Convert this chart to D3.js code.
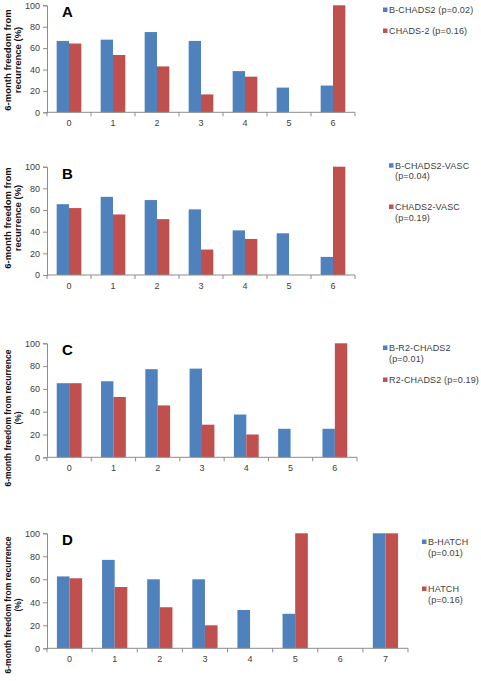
<!DOCTYPE html>
<html><head><meta charset="utf-8">
<script src="https://cdn.jsdelivr.net/npm/d3@7"></script>
<style>body{margin:0;background:#fff}svg{display:block}</style>
</head><body>
<script>
const yTicks = [0, 20, 40, 60, 80, 100];
const catsA = ["0","1","2","3","4","5","6"];
const blueA = [66.7, 67.9, 75, 66.7, 38.5, 23.1, 25];
const redA  = [64.3, 53.6, 42.9, 16.7, 33.3, 0, 100];
const legendA = [["B-CHADS2 (p=0.02)"], ["CHADS-2 (p=0.16)"]];
const catsB = ["0","1","2","3","4","5","6"];
const blueB = [65.4, 72.2, 69.2, 60.6, 41.2, 38.5, 16.7];
const redB  = [61.8, 55.9, 51.6, 23.5, 33.3, 0, 100];
const legendB = [["B-CHADS2-VASC", "(p=0.04)"], ["CHADS2-VASC", "(p=0.19)"]];
const catsC = ["0","1","2","3","4","5","6"];
const blueC = [65, 66.7, 77.3, 77.8, 37.5, 25, 25];
const redC  = [65, 52.9, 45.5, 28.6, 20, 0, 100];
const legendC = [["B-R2-CHADS2", "(p=0.01)"], ["R2-CHADS2 (p=0.19)"]];
const catsD = ["0","1","2","3","4","5","6","7"];
const blueD = [62.5, 76.9, 60, 60, 33.3, 30, 0, 100];
const redD  = [60.9, 53.3, 35.7, 20, 0, 100, 0, 100];
const legendD = [["B-HATCH", "(p=0.01)"], ["HATCH", "(p=0.16)"]];
const letters = ["A", "B", "C", "D"];
const yTitleShort = ["6-month freedom from", "recurrence (%)"];
const yTitleLong = ["6-month freedom from recurrence", "(%)"];

const W = 481, H = 681;
const BLUE = "#4F81BD", RED = "#C0504D", AXIS = "#8C8C8C", TXT = "#404040";
const svg = d3.select("body").append("svg").attr("width", W).attr("height", H);

function panel(cfg) {
  const g = svg.append("g");
  const y = d3.scaleLinear().domain([0, 100]).range([cfg.yBot, cfg.yTop]);
  const x = d3.scaleBand().domain(cfg.cats).range([cfg.xL, cfg.xR]).padding(0);
  const bw = x.bandwidth() * 0.28;
  cfg.cats.forEach((c, i) => {
    const cx = x(c) + x.bandwidth() / 2;
    if (cfg.blue[i] > 0)
      g.append("rect").attr("x", cx - bw).attr("width", bw)
        .attr("y", y(cfg.blue[i])).attr("height", y(0) - y(cfg.blue[i])).attr("fill", BLUE);
    if (cfg.red[i] > 0)
      g.append("rect").attr("x", cx).attr("width", bw)
        .attr("y", y(cfg.red[i])).attr("height", y(0) - y(cfg.red[i])).attr("fill", RED);
  });
  const ya = g.append("g").attr("transform", `translate(${cfg.xL},0)`)
    .call(d3.axisLeft(y).tickValues(yTicks).tickSize(4).tickPadding(3));
  ya.select(".domain").attr("stroke", AXIS);
  ya.selectAll(".tick line").attr("stroke", AXIS);
  ya.selectAll("text").attr("fill", TXT).style("font", "9px 'Liberation Sans', Arial, sans-serif");
  const xa = g.append("g").attr("transform", `translate(0,${cfg.yBot})`);
  xa.append("line").attr("x1", cfg.xL).attr("x2", cfg.xR).attr("stroke", AXIS);
  const bounds = cfg.cats.map(c => x(c)).concat([cfg.xR]);
  xa.selectAll("line.tk").data(bounds).enter().append("line").attr("class", "tk")
    .attr("x1", d => d).attr("x2", d => d).attr("y1", 0).attr("y2", 4).attr("stroke", AXIS);
  xa.selectAll("text").data(cfg.cats).enter().append("text")
    .attr("x", d => x(d) + x.bandwidth() / 2).attr("y", 13.5)
    .attr("text-anchor", "middle").attr("fill", TXT)
    .style("font", "9px 'Liberation Sans', Arial, sans-serif").text(d => d);
  g.append("text").attr("x", 62).attr("y", cfg.yTop + 12)
    .style("font", "bold 15px 'Liberation Sans', Arial, sans-serif").attr("fill", "#000").text(cfg.letter);
  const t = g.append("text").attr("transform", `translate(11,${cfg.titleY}) rotate(-90)`)
    .attr("text-anchor", "middle").style("font", `bold ${cfg.titleSize}px 'Liberation Sans', Arial, sans-serif`).attr("fill", "#111");
  cfg.title.forEach((s, i) => t.append("tspan").attr("x", 0).attr("dy", i === 0 ? 0 : 10).text(s));
  const colors = [BLUE, RED];
  cfg.legend.forEach((lines, k) => {
    const ly = cfg.legY[k];
    g.append("rect").attr("x", cfg.legX).attr("y", ly - 2.5).attr("width", 4.5).attr("height", 4.5).attr("fill", colors[k]);
    lines.forEach((s, j) => {
      g.append("text").attr("x", cfg.legX + 6).attr("y", ly + 3.2 + j * 10.5)
        .attr("fill", TXT).style("font", "9px 'Liberation Sans', Arial, sans-serif")
        .style("letter-spacing", "0.15px").text(s);
    });
  });
}

panel({cats: catsA, blue: blueA, red: redA, legend: legendA, letter: letters[0], title: yTitleShort, titleSize: 9.5,
  xL: 47, xR: 355, yTop: 5.3, yBot: 112.3, titleY: 60, legX: 383, legY: [10, 31]});
panel({cats: catsB, blue: blueB, red: redB, legend: legendB, letter: letters[1], title: yTitleShort, titleSize: 9.5,
  xL: 47, xR: 355, yTop: 166.7, yBot: 275, titleY: 218, legX: 389, legY: [165.7, 207]});
panel({cats: catsC, blue: blueC, red: redC, legend: legendC, letter: letters[2], title: yTitleLong, titleSize: 8.5,
  xL: 47, xR: 357, yTop: 343.3, yBot: 457.3, titleY: 418, legX: 383, legY: [348, 380]});
panel({cats: catsD, blue: blueD, red: redD, legend: legendD, letter: letters[3], title: yTitleLong, titleSize: 8.5,
  xL: 47, xR: 408, yTop: 533.3, yBot: 648.3, titleY: 605, legX: 422, legY: [542, 589]});
</script>
</body></html>
